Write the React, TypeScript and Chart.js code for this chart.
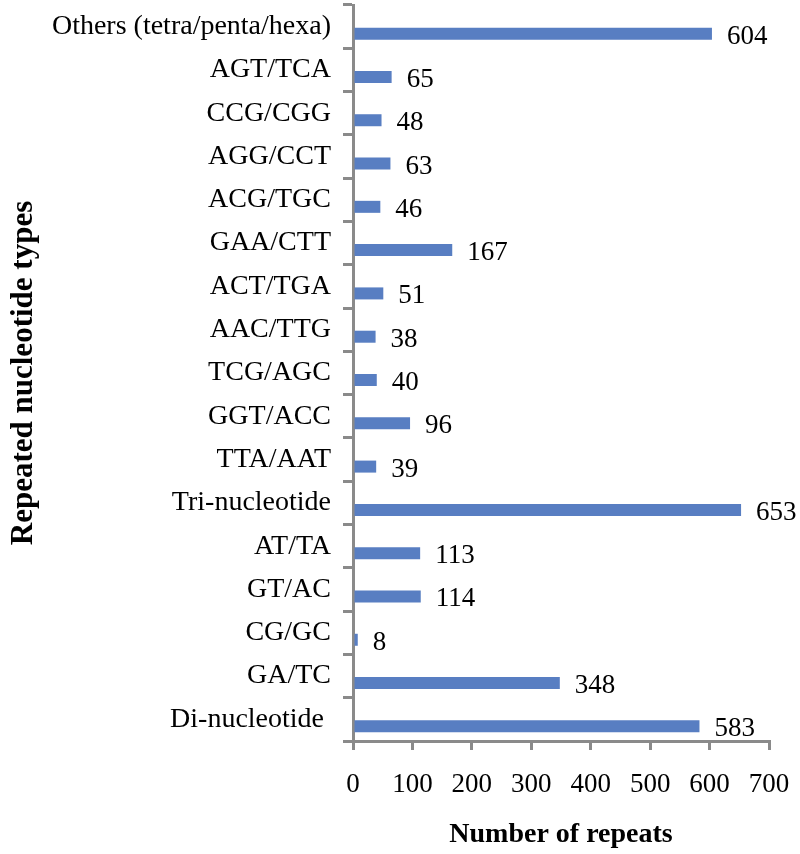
import React, { useEffect, useRef } from "react";
import { Chart, registerables } from "chart.js";

Chart.register(...registerables);

const categories: string[] = [
  "Others (tetra/penta/hexa)",
  "AGT/TCA",
  "CCG/CGG",
  "AGG/CCT",
  "ACG/TGC",
  "GAA/CTT",
  "ACT/TGA",
  "AAC/TTG",
  "TCG/AGC",
  "GGT/ACC",
  "TTA/AAT",
  "Tri-nucleotide",
  "AT/TA",
  "GT/AC",
  "CG/GC",
  "GA/TC",
  "Di-nucleotide ",
];

const repeats: number[] = [604, 65, 48, 63, 46, 167, 51, 38, 40, 96, 39, 653, 113, 114, 8, 348, 583];

const xTicks: number[] = [0, 100, 200, 300, 400, 500, 600, 700];

const xTitle = "Number of repeats";
const yTitle = "Repeated nucleotide types";

const SERIF = "'Liberation Serif', 'Times New Roman', serif";
const AXIS_COLOR = "#8a8a8a";
const BAR_COLOR = "#587EC2";

const valueLabels = {
  id: "valueLabels",
  afterDatasetsDraw(chart: any) {
    const meta = chart.getDatasetMeta(1);
    const ctx = chart.ctx;
    ctx.save();
    ctx.font = `27px ${SERIF}`;
    ctx.fillStyle = "#000";
    ctx.textAlign = "left";
    ctx.textBaseline = "alphabetic";
    meta.data.forEach((bar: any, i: number) => {
      const v = repeats[i];
      ctx.fillText(String(v), bar.x + 15, bar.y + 10);
    });
    ctx.restore();
  },
};

export default function App() {
  const ref = useRef<HTMLCanvasElement | null>(null);
  useEffect(() => {
    if (!ref.current) return;
    const chart = new Chart(ref.current, {
      type: "bar",
      data: {
        labels: categories,
        datasets: [
          {
            label: "spacer",
            data: categories.map(() => null),
            backgroundColor: "rgba(0,0,0,0)",
          },
          {
            label: "Number of repeats",
            data: repeats,
            backgroundColor: BAR_COLOR,
            borderWidth: 0,
          },
        ],
      },
      options: {
        indexAxis: "y",
        responsive: false,
        animation: false,
        events: [],
        layout: { padding: { top: 5, right: 31, bottom: 0, left: 0 } },
        datasets: {
          bar: { categoryPercentage: 0.647, barPercentage: 0.857 },
        },
        plugins: {
          legend: { display: false },
          tooltip: { enabled: false },
        },
        scales: {
          x: {
            type: "linear",
            min: 0,
            max: 700,
            afterBuildTicks: (s: any) => {
              s.ticks = xTicks.map((v) => ({ value: v }));
            },
            afterFit: (s: any) => {
              s.height = 113;
              s.paddingLeft = 0;
              s.paddingRight = 0;
            },
            grid: {
              drawOnChartArea: false,
              drawTicks: true,
              tickLength: 9,
              color: AXIS_COLOR,
              lineWidth: 3,
            },
            border: { display: true, color: AXIS_COLOR, width: 3 },
            ticks: {
              color: "#000",
              font: { family: SERIF, size: 27 },
              padding: 19,
              maxRotation: 0,
              autoSkip: false,
            },
            title: {
              display: true,
              text: xTitle,
              color: "#000",
              font: { family: SERIF, size: 28, weight: "bold" },
              padding: { top: 0, bottom: 2 },
            },
          },
          y: {
            afterFit: (s: any) => {
              s.width = 353;
              s.paddingTop = 0;
              s.paddingBottom = 0;
            },
            grid: {
              drawOnChartArea: false,
              drawTicks: true,
              tickLength: 10,
              color: AXIS_COLOR,
              lineWidth: 3,
              offset: true,
            },
            border: { display: true, color: AXIS_COLOR, width: 3 },
            ticks: {
              color: "#000",
              font: { family: SERIF, size: 28 },
              padding: 12,
              autoSkip: false,
            },
            title: {
              display: true,
              text: yTitle,
              color: "#000",
              font: { family: SERIF, size: 31, weight: "bold" },
              padding: { top: 5, bottom: 0 },
            },
          },
        },
      },
      plugins: [valueLabels],
    } as any);
    return () => chart.destroy();
  }, []);

  return (
    <div style={{ position: "absolute", left: 0, top: 0, width: 800, height: 854, background: "#fff" }}>
      <canvas ref={ref} width={800} height={854} style={{ display: "block" }} />
    </div>
  );
}
